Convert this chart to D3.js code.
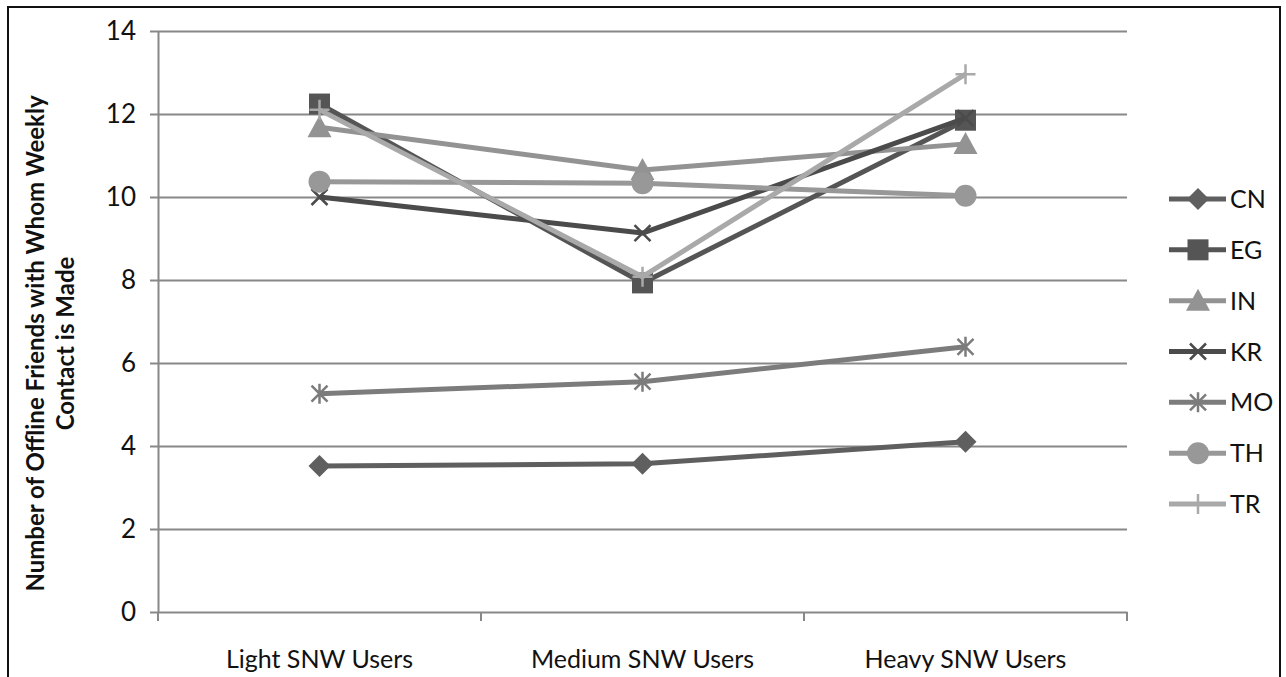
<!DOCTYPE html>
<html>
<head>
<meta charset="utf-8">
<script src="https://cdn.jsdelivr.net/npm/d3@7"></script>
<style>
  html, body { margin: 0; padding: 0; background: #fff; }
  svg { display: block; }
  text { font-family: Lato, "Open Sans", sans-serif; fill: #111; }
</style>
</head>
<body>
<svg id="chart" width="1286" height="677"></svg>
<script>
// ---- data ----
const categories = ["Light SNW Users", "Medium SNW Users", "Heavy SNW Users"];
const seriesNames = ["CN", "EG", "IN", "KR", "MO", "TH", "TR"];
const CN = [3.52, 3.57, 4.10];
const EG = [12.24, 7.93, 11.85];
const IN = [11.68, 10.65, 11.28];
const KR = [10.00, 9.13, 11.90];
const MO = [5.26, 5.55, 6.39];
const TH = [10.37, 10.33, 10.03];
const TR = [12.10, 8.08, 12.96];
const yTicks = [0, 2, 4, 6, 8, 10, 12, 14];
const yTitle = ["Number of Offline Friends with Whom Weekly", "Contact is Made"];

const seriesValues = { CN, EG, IN, KR, MO, TH, TR };
const seriesColor = { CN: "#5f5f5f", EG: "#555555", IN: "#939393", KR: "#4b4b4b", MO: "#7c7c7c", TH: "#989898", TR: "#a9a9a9" };
const seriesMarker = { CN: "diamond", EG: "square", IN: "triangle", KR: "x", MO: "star", TH: "circle", TR: "plus" };

// ---- layout ----
const svg = d3.select("#chart");
const plot = { left: 158, right: 1127, top: 31, bottom: 612 };

// frame
svg.append("rect").attr("x", 8).attr("y", 7).attr("width", 1272).attr("height", 700)
  .attr("fill", "none").attr("stroke", "#111").attr("stroke-width", 2);

const x = d3.scaleBand().domain(categories).range([plot.left, plot.right]).padding(0);
const cx = c => x(c) + x.bandwidth() / 2;
const y = d3.scaleLinear().domain([0, 14]).range([plot.bottom, plot.top]);

const gridColor = "#888888";

// gridlines
const grid = svg.append("g").attr("transform", `translate(${plot.left},0)`)
  .call(d3.axisLeft(y).tickValues(yTicks.filter(v => v > 0)).tickSize(-(plot.right - plot.left)).tickFormat(""));
grid.select(".domain").remove();
grid.selectAll("line").attr("stroke", gridColor).attr("stroke-width", 2);

// y axis
const yAxis = svg.append("g").attr("transform", `translate(${plot.left},0)`)
  .call(d3.axisLeft(y).tickValues(yTicks).tickSize(8).tickSizeOuter(0).tickPadding(14));
yAxis.select(".domain").attr("stroke", gridColor).attr("stroke-width", 2);
yAxis.selectAll(".tick line").attr("stroke", gridColor).attr("stroke-width", 2);
yAxis.selectAll(".tick text").style("font-size", "26px").style("font-family", "Lato").attr("fill", "#111");

// x axis line and boundary ticks
const xAxis = svg.append("g").attr("transform", `translate(0,${plot.bottom})`)
  .call(d3.axisBottom(x).tickSize(0).tickPadding(38));
xAxis.select(".domain").attr("stroke", gridColor).attr("stroke-width", 2);
xAxis.selectAll(".tick text").style("font-size", "25px").style("font-family", "Lato").attr("fill", "#111");
const bounds = categories.map(c => x(c)).concat([plot.right]);
svg.append("g").selectAll("line").data(bounds).join("line")
  .attr("x1", d => d).attr("x2", d => d)
  .attr("y1", plot.bottom).attr("y2", plot.bottom + 9)
  .attr("stroke", gridColor).attr("stroke-width", 2);

// y title
const yt = svg.append("text")
  .attr("transform", `translate(44,${(plot.top + plot.bottom) / 2 + 22}) rotate(-90)`)
  .attr("text-anchor", "middle")
  .style("font-size", "24px").style("font-weight", "bold");
yTitle.forEach((t, i) => yt.append("tspan").attr("x", 0).attr("dy", i === 0 ? 0 : 30).text(t));

// markers
function markerPath(type) {
  const p = d3.path();
  switch (type) {
    case "diamond": p.moveTo(0, -11); p.lineTo(11, 0); p.lineTo(0, 11); p.lineTo(-11, 0); p.closePath(); break;
    case "square": p.rect(-10.5, -10.5, 21, 21); break;
    case "triangle": p.moveTo(0, -12); p.lineTo(12, 10); p.lineTo(-12, 10); p.closePath(); break;
    case "x": p.moveTo(-8, -8); p.lineTo(8, 8); p.moveTo(-8, 8); p.lineTo(8, -8); break;
    case "star": p.moveTo(-8, -8); p.lineTo(8, 8); p.moveTo(-8, 8); p.lineTo(8, -8); p.moveTo(0, -10); p.lineTo(0, 10); break;
    case "circle": p.arc(0, 0, 11, 0, 2 * Math.PI); break;
    case "plus": p.moveTo(-10, 0); p.lineTo(10, 0); p.moveTo(0, -10); p.lineTo(0, 10); break;
  }
  return p.toString();
}
const strokeOnly = t => t === "x" || t === "star" || t === "plus";

function drawMarker(g, type, color) {
  const m = g.append("path").attr("d", markerPath(type));
  if (strokeOnly(type)) m.attr("fill", "none").attr("stroke", color).attr("stroke-width", 2.5);
  else m.attr("fill", color).attr("stroke", "none");
}

const line = d3.line().x(d => cx(d.c)).y(d => y(d.v));
const seriesG = svg.append("g");
seriesNames.forEach(name => {
  const pts = categories.map((c, i) => ({ c, v: seriesValues[name][i] }));
  const g = seriesG.append("g");
  g.append("path").attr("d", line(pts)).attr("fill", "none")
    .attr("stroke", seriesColor[name]).attr("stroke-width", 5).attr("stroke-linejoin", "round");
  pts.forEach(p => {
    const mg = g.append("g").attr("transform", `translate(${cx(p.c)},${y(p.v)})`);
    drawMarker(mg, seriesMarker[name], seriesColor[name]);
  });
});

// legend
const legendY = d3.scalePoint().domain(seriesNames).range([199, 504]);
const legend = svg.append("g");
seriesNames.forEach(name => {
  const g = legend.append("g").attr("transform", `translate(0,${legendY(name)})`);
  g.append("line").attr("x1", 1169).attr("x2", 1226).attr("y1", 0).attr("y2", 0)
    .attr("stroke", seriesColor[name]).attr("stroke-width", 5);
  const mg = g.append("g").attr("transform", "translate(1198,0)");
  drawMarker(mg, seriesMarker[name], seriesColor[name]);
  g.append("text").attr("x", 1230).attr("y", 0).attr("dy", "0.36em")
    .style("font-size", "25px").text(name);
});
</script>
</body>
</html>
